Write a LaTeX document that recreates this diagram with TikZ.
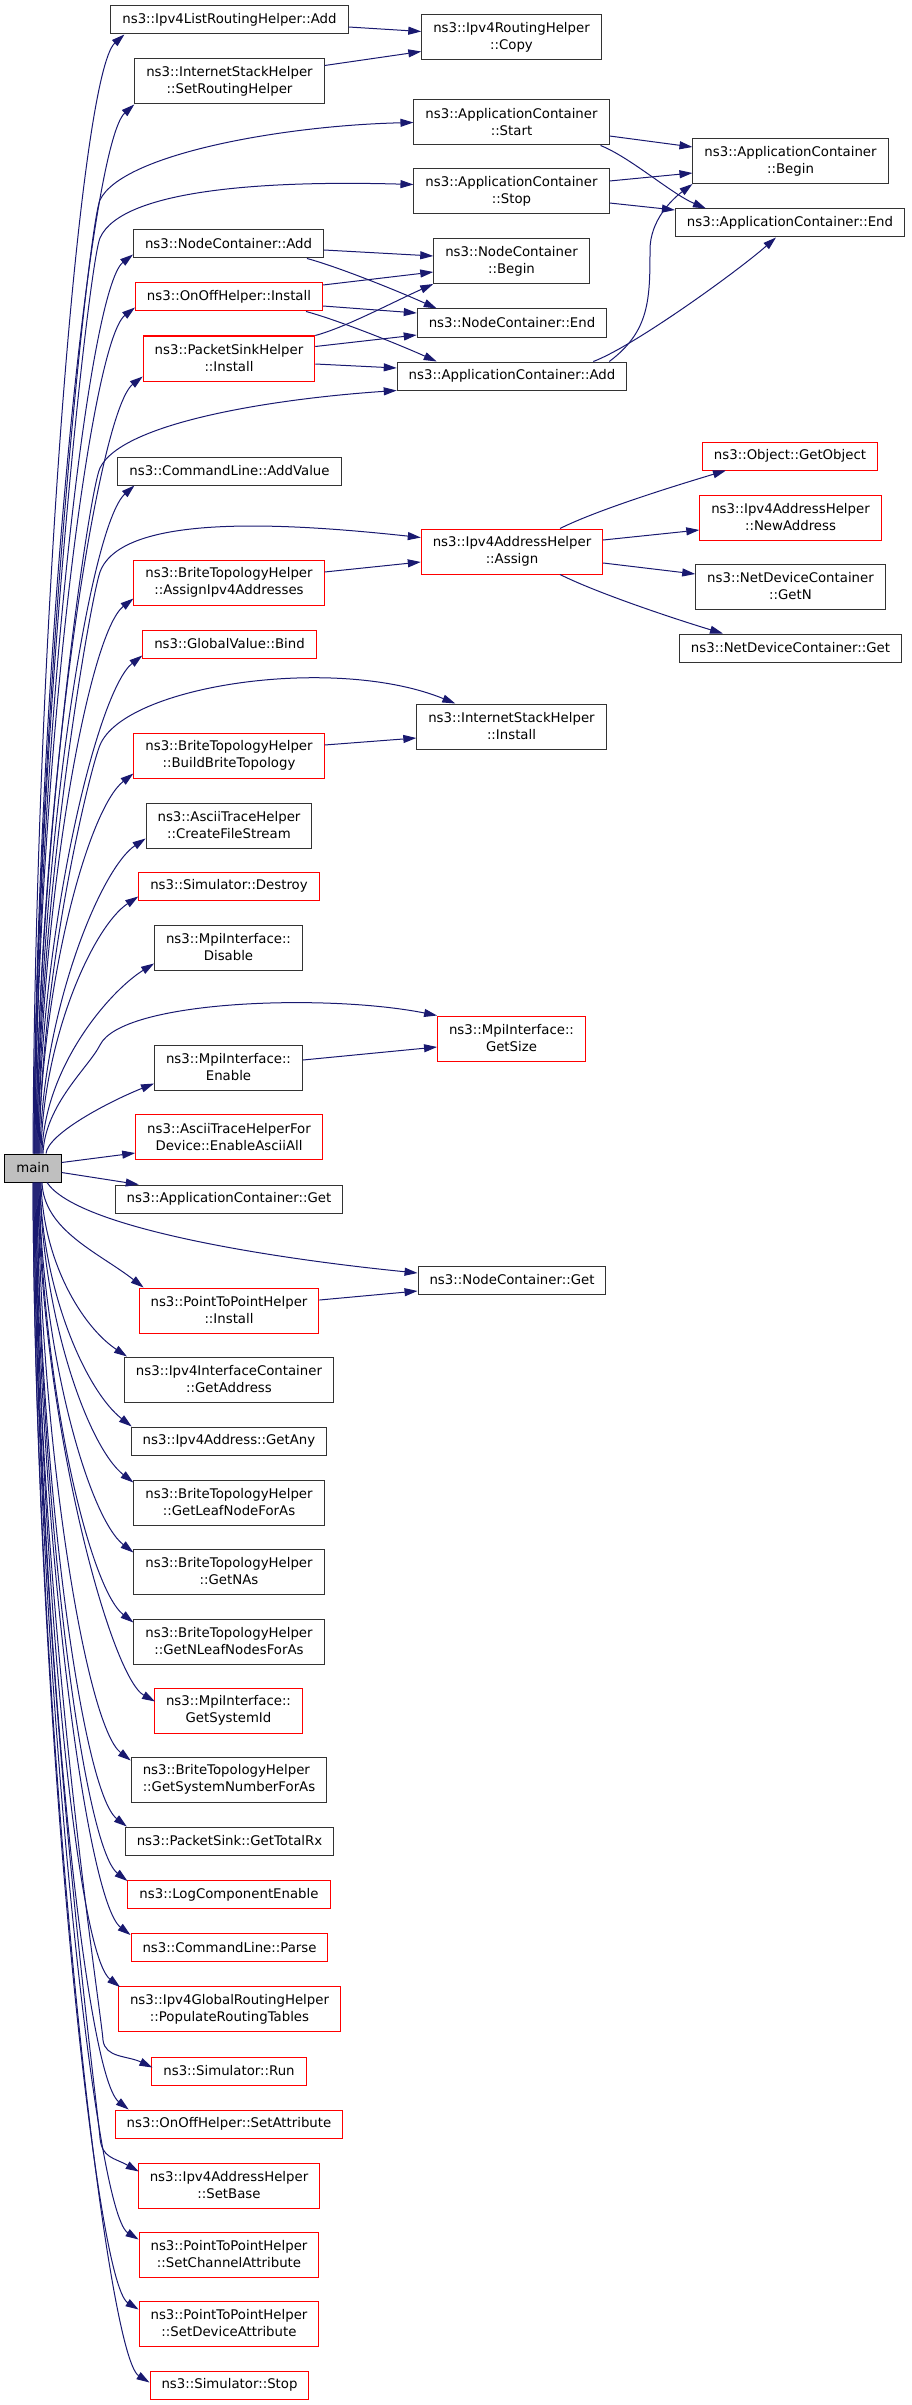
\documentclass[tikz,border=0pt]{standalone}
\usepackage{fontspec}
\setmainfont{DejaVu Sans}
\usetikzlibrary{arrows.meta,calc}
\definecolor{edgeblue}{HTML}{191970}
\definecolor{boxred}{HTML}{FF0000}
\definecolor{mainfill}{HTML}{BFBFBF}

\begin{document}
\begin{tikzpicture}[x=1pt, y=-1pt,
		every node/.style={rectangle, font=\fontsize{13.3}{17}\selectfont, inner xsep=11.5pt, minimum height=28pt, line width=1pt, align=center},
		fn/.style={draw=black!80},
		fnred/.style={draw=boxred},
		twoline/.style={minimum height=45pt},
		call/.style={draw=edgeblue, line width=1pt, -{Triangle[length=13pt, width=8pt]}}]
		\useasboundingbox (0,0) rectangle (912,2405);
		
		% Caller
		\node[fn, draw=black, fill=mainfill] (main) at (33,1168) {main};
		
		% Functions called by main
		\node[fn] (lra) at (229.5,20) {ns3::Ipv4ListRoutingHelper::Add};
		\node[fn, twoline] (srh) at (229.5,81.5) {ns3::InternetStackHelper\\::SetRoutingHelper};
		\node[fn] (nca) at (228.5,244) {ns3::NodeContainer::Add};
		\node[fnred] (ooi) at (229,297) {ns3::OnOffHelper::Install};
		\node[fnred, twoline] (psi) at (229,358.5) {ns3::PacketSinkHelper\\::Install};
		\node[fn] (clav) at (229.5,471) {ns3::CommandLine::AddValue};
		\node[fnred, twoline] (aia) at (229,582.5) {ns3::BriteTopologyHelper\\::AssignIpv4Addresses};
		\node[fnred] (gvb) at (229.5,644) {ns3::GlobalValue::Bind};
		\node[fnred, twoline] (bbt) at (229,755.5) {ns3::BriteTopologyHelper\\::BuildBriteTopology};
		\node[fn, twoline] (cfs) at (229,825.5) {ns3::AsciiTraceHelper\\::CreateFileStream};
		\node[fnred] (sid) at (229,886) {ns3::Simulator::Destroy};
		\node[fn, twoline] (mpd) at (228.5,947.5) {ns3::MpiInterface::\\Disable};
		\node[fn, twoline] (mpe) at (228.5,1067.5) {ns3::MpiInterface::\\Enable};
		\node[fnred, twoline] (eaa) at (229,1137) {ns3::AsciiTraceHelperFor\\Device::EnableAsciiAll};
		\node[fn] (acg) at (229,1199) {ns3::ApplicationContainer::Get};
		\node[fnred, twoline] (ppi) at (229,1310.5) {ns3::PointToPointHelper\\::Install};
		\node[fn, twoline] (gad) at (229,1379.5) {ns3::Ipv4InterfaceContainer\\::GetAddress};
		\node[fn] (gany) at (229,1441) {ns3::Ipv4Address::GetAny};
		\node[fn, twoline] (glf) at (229,1502.5) {ns3::BriteTopologyHelper\\::GetLeafNodeForAs};
		\node[fn, twoline] (gna) at (229,1571.5) {ns3::BriteTopologyHelper\\::GetNAs};
		\node[fn, twoline] (gnl) at (229,1641.5) {ns3::BriteTopologyHelper\\::GetNLeafNodesForAs};
		\node[fnred, twoline] (gsi) at (228.5,1710.5) {ns3::MpiInterface::\\GetSystemId};
		\node[fn, twoline, align=left] (gsn) at (229,1779.5) {ns3::BriteTopologyHelper\\::GetSystemNumberForAs};
		\node[fn] (gtr) at (229.5,1841) {ns3::PacketSink::GetTotalRx};
		\node[fnred] (lce) at (229,1894.5) {ns3::LogComponentEnable};
		\node[fnred] (clp) at (229.5,1947.5) {ns3::CommandLine::Parse};
		\node[fnred, twoline] (prt) at (229.5,2009) {ns3::Ipv4GlobalRoutingHelper\\::PopulateRoutingTables};
		\node[fnred] (run) at (229,2071) {ns3::Simulator::Run};
		\node[fnred] (osa) at (229,2124) {ns3::OnOffHelper::SetAttribute};
		\node[fnred, twoline] (sbase) at (229,2185.5) {ns3::Ipv4AddressHelper\\::SetBase};
		\node[fnred, twoline] (sca) at (229,2254.5) {ns3::PointToPointHelper\\::SetChannelAttribute};
		\node[fnred, twoline] (sda) at (229,2323.5) {ns3::PointToPointHelper\\::SetDeviceAttribute};
		\node[fnred] (sst) at (229.5,2385) {ns3::Simulator::Stop};
		
		% Second column
		\node[fn, twoline] (copy) at (511.5,37.5) {ns3::Ipv4RoutingHelper\\::Copy};
		\node[fn, twoline] (acs) at (511.5,122.5) {ns3::ApplicationContainer\\::Start};
		\node[fn, twoline] (acst) at (511.5,191.5) {ns3::ApplicationContainer\\::Stop};
		\node[fn, twoline] (ncb) at (511.5,261) {ns3::NodeContainer\\::Begin};
		\node[fn] (nce) at (512,323) {ns3::NodeContainer::End};
		\node[fn] (aca) at (512,376) {ns3::ApplicationContainer::Add};
		\node[fnred, twoline] (assign) at (512,551.5) {ns3::Ipv4AddressHelper\\::Assign};
		\node[fn, twoline] (ish) at (511.5,726.5) {ns3::InternetStackHelper\\::Install};
		\node[fnred, twoline] (gsz) at (511.5,1038.5) {ns3::MpiInterface::\\GetSize};
		\node[fn] (ncg) at (512,1280) {ns3::NodeContainer::Get};
		
		% Third column
		\node[fn, twoline] (acb) at (790.5,161) {ns3::ApplicationContainer\\::Begin};
		\node[fn] (ace) at (790,223) {ns3::ApplicationContainer::End};
		\node[fnred] (gob) at (790,456) {ns3::Object::GetObject};
		\node[fnred, twoline] (nad) at (790.5,517.5) {ns3::Ipv4AddressHelper\\::NewAddress};
		\node[fn, twoline] (gn) at (790.5,586.5) {ns3::NetDeviceContainer\\::GetN};
		\node[fn] (ndg) at (790.5,648) {ns3::NetDeviceContainer::Get};
		
		% Calls from main upwards
		\foreach \n/\a/\ox/\oy/\xs/\d/\cy in {lra/south west/14/0/0/504/40, srh/south west/0/0/1/472/40,
			nca/south west/0/-4/2/405/35, ooi/south west/0/-4/2/381/35, psi/south west/0/-5/3/350/35,
			clav/south west/17/0/4/301/40, aia/south west/0/-7/5/250/35, gvb/south west/0/-3/5/225/35,
			bbt/south west/0/-5/6/171/35, cfs/south west/0/-10/7/142/30, sid/south west/0/-4/8/116/30,
			mpd/south west/0/-7/9/86/28, mpe/south west/0/-7/13/20/18}
		\draw[call] ([xshift=\xs pt]main.north) .. controls +(2,-\d) and +(-45,\cy) .. ($(\n.\a)+(\ox,\oy)$);
		
		% Calls from main downwards
		\foreach \n/\a/\ox/\oy/\xs/\d/\cy in {ppi/north west/5/0/9/48/35, gad/north west/3/0/8/79/30,
			gany/north west/1/0/7/110/35, glf/north west/0/3/7/135/35, gna/north west/0/4/6/167/35,
			gnl/north west/0/4/6/198/35, gsi/north west/1/14/5/234/25, gsn/north west/0/4/5/260/35,
			gtr/north west/2/0/4/290/35, lce/north west/0/1/4/315/35, clp/north west/0/2/3/339/35,
			prt/north west/2/1/3/362/35, osa/north west/14/0/2/418/35,
			sca/north west/0/8/1/476/28, sda/north west/0/9/0/508/28, sst/north west/0/12/0/540/28}
		\draw[call] ([xshift=\xs pt]main.south) .. controls +(2,\d) and +(-45,-\cy) .. ($(\n.\a)+(\ox,\oy)$);
		\draw[call] ([xshift=2pt]main.south) .. controls +(2,420) and +(-2,-30) .. (103,2040)
			.. controls +(2,18) and +(-25,-12) .. ($(run.north west)+(1,11)$);
		\draw[call] ([xshift=1pt]main.south) .. controls +(2,470) and +(-2,-30) .. (100,2138)
			.. controls +(2,20) and +(-25,-14) .. ($(sbase.north west)+(1,9)$);
		
		% Calls from main to the second column
		\draw[call] ([xshift=1pt]main.north) .. controls +(2,-429) and +(-11,23) .. (100,200)
			.. controls +(22,-46) and +(-130,3) .. (acs.west);
		\draw[call] ([xshift=1pt]main.north) .. controls +(2,-412) and +(-11,25) .. (100,238)
			.. controls +(22,-50) and +(-140,-4) .. ($(acst.west)+(0,-7)$);
		\draw[call] ([xshift=3pt]main.north) .. controls +(2,-309) and +(-11,23) .. (100,468)
			.. controls +(22,-46) and +(-120,8) .. (aca.south west);
		\draw[call] ([xshift=4pt]main.north) .. controls +(2,-262) and +(-9,25) .. (100,572)
			.. controls +(22,-60) and +(-130,-14) .. ($(assign.west)+(0,-14)$);
		\draw[call] ([xshift=6pt]main.north) .. controls +(2,-184) and +(-10,24) .. (100,745)
			.. controls +(25,-60) and +(-120,-49) .. ($(ish.north west)+(39,0)$);
		\draw[call] ([xshift=10pt]main.north) .. controls +(2,-49) and +(-11,22) .. (100,1045)
			.. controls +(22,-45) and +(-110,-22) .. (gsz.north west);
		\draw[call] ([xshift=14pt]main.south) .. controls +(30,45) and +(-150,-15) .. ($(ncg.west)+(0,-7)$);
		\draw[call] ($(main.north east)+(0,9)$) -- ($(eaa.south west)+(0,-7)$);
		\draw[call] ($(main.south east)+(0,-10)$) -- ($(acg.north west)+(24,0)$);
		
		% Calls between first and second column
		\draw[call] ($(lra.east)+(0,7)$) -- ($(copy.west)+(0,-6)$);
		\draw[call] ($(srh.north east)+(0,7)$) -- ($(copy.west)+(0,14)$);
		\draw[call] ($(nca.east)+(0,6)$) -- ($(ncb.west)+(0,-5)$);
		\draw[call] ($(nca.south east)+(-17,0)$) .. controls +(30,8) and +(-40,-18) .. ($(nce.north west)+(20,0)$);
		\draw[call] ($(ooi.east)+(0,-12)$) -- ($(ncb.west)+(0,11)$);
		\draw[call] ($(ooi.east)+(0,9)$) -- ($(nce.west)+(0,-10)$);
		\draw[call] ($(ooi.south east)+(-17,0)$) .. controls +(30,8) and +(-40,-18) .. ($(aca.north west)+(40,0)$);
		\draw[call] (psi.north east) .. controls +(30,-8) and +(-40,18) .. (ncb.south west);
		\draw[call] ($(psi.north east)+(0,11)$) -- ($(nce.west)+(0,12)$);
		\draw[call] ($(psi.east)+(0,5.5)$) -- ($(aca.west)+(0,-8)$);
		\draw[call] ($(aia.east)+(0,-10.5)$) -- ($(assign.west)+(0,10.5)$);
		\draw[call] ($(bbt.east)+(0,-10.5)$) -- ($(ish.west)+(0,11.5)$);
		\draw[call] ($(mpe.east)+(0,-7.5)$) -- ($(gsz.west)+(0,8.5)$);
		\draw[call] ($(ppi.east)+(0,-10.5)$) -- ($(ncg.west)+(0,11)$);
		
		% Calls between second and third column
		\draw[call] ($(acs.east)+(0,13.5)$) -- ($(acb.west)+(0,-14)$);
		\draw[call] ($(acs.south east)+(-9,0)$) .. controls +(30,12) and +(-35,-15) .. ($(ace.north west)+(31,0)$);
		\draw[call] ($(acst.east)+(0,-10.5)$) -- ($(acb.west)+(0,12)$);
		\draw[call] ($(acst.east)+(0,11.5)$) -- ($(ace.west)+(0,-13)$);
		\draw[call] ($(aca.north east)+(-18,0)$) .. controls +(40,-30) and +(0,50) .. (650,250)
			.. controls +(0,-30) and +(-20,15) .. (acb.south west);
		\draw[call] ($(aca.north east)+(-34,0)$) .. controls +(40,-15) and +(-40,35) .. ($(ace.south)+(-14,0)$);
		\draw[call] ($(assign.north)+(48,0)$) .. controls +(40,-20) and +(-40,12) .. ($(gob.south west)+(24,0)$);
		\draw[call] ($(assign.east)+(0,-11.5)$) -- ($(nad.west)+(0,12.5)$);
		\draw[call] ($(assign.east)+(0,11.5)$) -- ($(gn.west)+(0,-12.5)$);
		\draw[call] ($(assign.south)+(48,0)$) .. controls +(40,20) and +(-40,-12) .. ($(ndg.north west)+(44,0)$);
	\end{tikzpicture}
\end{document}
